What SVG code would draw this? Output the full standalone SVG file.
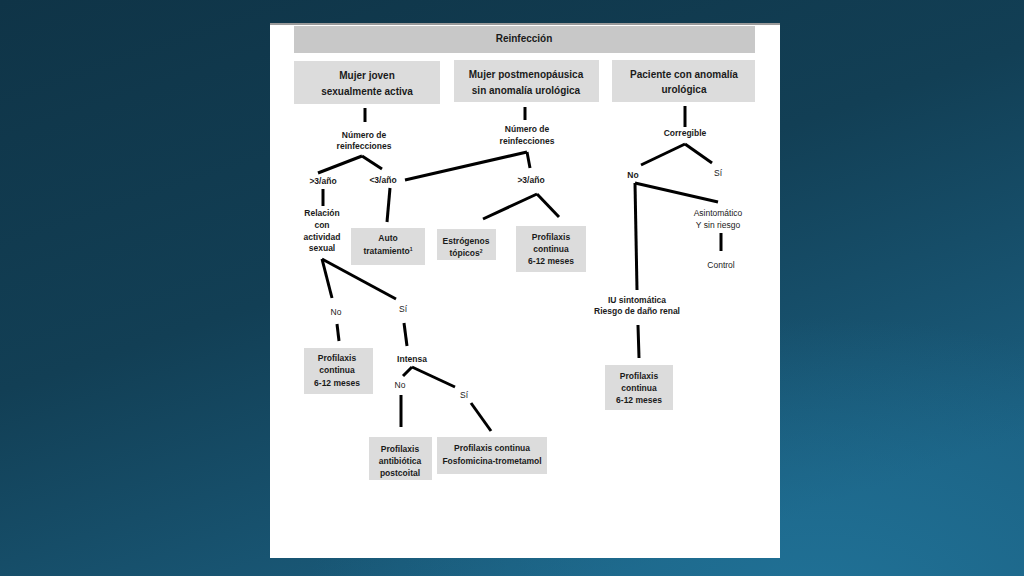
<svg xmlns="http://www.w3.org/2000/svg" width="1024" height="576" viewBox="0 0 1024 576">
<defs>
<linearGradient id="bg" x1="0" y1="0" x2="0.6" y2="1">
<stop offset="0" stop-color="#0f3447"/>
<stop offset="0.5" stop-color="#123f55"/>
<stop offset="1" stop-color="#1b5f80"/>
</linearGradient>
<radialGradient id="glow" cx="0.8" cy="1.05" r="0.5">
<stop offset="0" stop-color="#2279a0" stop-opacity="0.7"/>
<stop offset="1" stop-color="#2279a0" stop-opacity="0"/>
</radialGradient>
<style>
.hdr{fill:#c8c8c8}
.box{fill:#dcdcdc}
.t{font-family:"Liberation Sans",Arial,sans-serif;font-size:8.5px;font-weight:bold;fill:#1a1a1a;text-anchor:middle}
.h{font-family:"Liberation Sans",Arial,sans-serif;font-size:10px;font-weight:bold;fill:#1a1a1a;text-anchor:middle}
.s{font-family:"Liberation Sans",Arial,sans-serif;font-size:8.5px;fill:#1a1a1a;text-anchor:middle}
.c line{stroke:#000;stroke-width:3;stroke-linecap:butt}
</style>
</defs>
<rect width="1024" height="576" fill="url(#bg)"/>
<rect width="1024" height="576" fill="url(#glow)"/>
<rect x="270" y="23" width="510" height="535" fill="#ffffff"/>
<rect x="270" y="23" width="510" height="2" fill="#9a9a9a"/>

<g id="n_reinfeccion"><rect class="hdr" x="294" y="26" width="461" height="27"/><text class="h" x="524" y="42">Reinfección</text></g>
<g id="n_joven"><rect class="box" x="294" y="61" width="146" height="43"/><text class="h" x="367" y="79">Mujer joven</text><text class="h" x="367" y="95">sexualmente activa</text></g>
<g id="n_postmeno"><rect class="box" x="454" y="60" width="145" height="42"/><text class="h" x="526" y="78">Mujer postmenopáusica</text><text class="h" x="526" y="94">sin anomalía urológica</text></g>
<g id="n_paciente"><rect class="box" x="612" y="60" width="143" height="42"/><text class="h" x="684" y="78">Paciente con anomalía</text><text class="h" x="684" y="93">urológica</text></g>

<g id="n_num1"><text class="t" x="364" y="138">Número de</text><text class="t" x="364" y="149">reinfecciones</text></g>
<g id="n_gt3a"><text class="t" x="323" y="184">&gt;3/año</text></g>
<g id="n_lt3a"><text class="t" x="383" y="183">&lt;3/año</text></g>
<g id="n_relacion"><text class="t" x="322" y="216">Relación</text><text class="t" x="322" y="228">con</text><text class="t" x="322" y="240">actividad</text><text class="t" x="322" y="251">sexual</text></g>
<g id="n_auto"><rect class="box" x="351" y="228" width="74" height="37"/><text class="t" x="388" y="241">Auto</text><text class="t" x="388" y="254">tratamiento<tspan font-size="5" dy="-3">1</tspan></text></g>
<g id="n_no1"><text class="s" x="336" y="315">No</text></g>
<g id="n_si1"><text class="s" x="403" y="312">Sí</text></g>
<g id="n_prof1"><rect class="box" x="304" y="348" width="69" height="46"/><text class="t" x="337" y="361">Profilaxis</text><text class="t" x="337" y="373">continua</text><text class="t" x="337" y="386">6-12 meses</text></g>
<g id="n_intensa"><text class="t" x="412" y="362">Intensa</text></g>
<g id="n_no2"><text class="s" x="400" y="388">No</text></g>
<g id="n_si2"><text class="s" x="464" y="398">Sí</text></g>
<g id="n_postcoital"><rect class="box" x="369" y="437" width="63" height="43"/><text class="t" x="400" y="452">Profilaxis</text><text class="t" x="400" y="464">antibiótica</text><text class="t" x="400" y="476">postcoital</text></g>
<g id="n_fosfo"><rect class="box" x="437" y="437" width="110" height="37"/><text class="t" x="492" y="451">Profilaxis continua</text><text class="t" x="492" y="464">Fosfomicina-trometamol</text></g>

<g id="n_num2"><text class="t" x="527" y="132">Número de</text><text class="t" x="527" y="144">reinfecciones</text></g>
<g id="n_gt3b"><text class="t" x="531" y="183">&gt;3/año</text></g>
<g id="n_estrogenos"><rect class="box" x="437" y="229" width="59" height="31"/><text class="t" x="466" y="244">Estrógenos</text><text class="t" x="466" y="256">tópicos<tspan font-size="5" dy="-3">2</tspan></text></g>
<g id="n_prof2"><rect class="box" x="516" y="226" width="70" height="46"/><text class="t" x="551" y="240">Profilaxis</text><text class="t" x="551" y="252">continua</text><text class="t" x="551" y="264">6-12 meses</text></g>

<g id="n_corregible"><text class="t" x="685" y="136">Corregible</text></g>
<g id="n_no3"><text class="t" x="633" y="178">No</text></g>
<g id="n_si3"><text class="s" x="718" y="176">Sí</text></g>
<g id="n_asinto"><text class="s" x="718" y="216">Asintomático</text><text class="s" x="718" y="228">Y sin riesgo</text></g>
<g id="n_control"><text class="s" x="721" y="268">Control</text></g>
<g id="n_iu"><text class="t" x="637" y="303">IU sintomática</text><text class="t" x="637" y="314">Riesgo de daño renal</text></g>
<g id="n_prof3"><rect class="box" x="605" y="365" width="68" height="45"/><text class="t" x="639" y="379">Profilaxis</text><text class="t" x="639" y="391">continua</text><text class="t" x="639" y="403">6-12 meses</text></g>

<g id="connectors" class="c">
<line x1="365" y1="108" x2="365" y2="122"/>
<line x1="362" y1="156" x2="318" y2="173"/>
<line x1="362" y1="156" x2="382" y2="169"/>
<line x1="323" y1="189" x2="323" y2="206"/>
<line x1="390" y1="188" x2="387" y2="222"/>
<line x1="405" y1="180" x2="527" y2="152"/>
<line x1="527" y1="152" x2="530" y2="168"/>
<line x1="525" y1="107" x2="525" y2="120"/>
<line x1="537" y1="194" x2="483" y2="219"/>
<line x1="537" y1="194" x2="559" y2="217"/>
<line x1="322" y1="259" x2="332" y2="298"/>
<line x1="322" y1="259" x2="396" y2="299"/>
<line x1="337" y1="324" x2="339" y2="341"/>
<line x1="404" y1="323" x2="407" y2="346"/>
<line x1="412" y1="367" x2="403" y2="376"/>
<line x1="412" y1="367" x2="455" y2="387"/>
<line x1="401" y1="395" x2="401" y2="427" stroke-width="4"/>
<line x1="471" y1="403" x2="491" y2="431"/>
<line x1="685" y1="106" x2="685" y2="127" stroke-width="4"/>
<line x1="685" y1="144" x2="641" y2="165"/>
<line x1="685" y1="144" x2="712" y2="163"/>
<line x1="635" y1="183" x2="718" y2="202"/>
<line x1="635" y1="183" x2="637" y2="290"/>
<line x1="721" y1="233" x2="721" y2="251"/>
<line x1="638" y1="325" x2="639" y2="358"/>
</g>
</svg>
